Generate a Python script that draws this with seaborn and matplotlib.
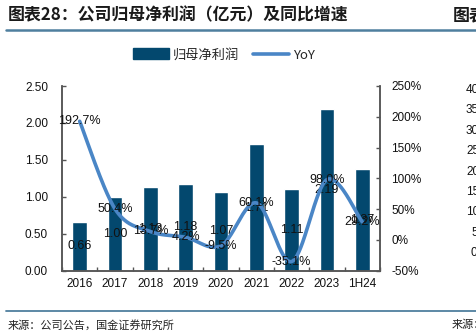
import numpy as np
import pandas as pd
import matplotlib
matplotlib.use("Agg")
import matplotlib.pyplot as plt
from matplotlib.ticker import FixedLocator, FuncFormatter
from matplotlib.patches import Patch
from matplotlib.lines import Line2D
import seaborn as sns

# ---- data ----
periods = ["2016", "2017", "2018", "2019", "2020", "2021", "2022", "2023", "1H24"]
net_profit = [0.66, 1.00, 1.13, 1.18, 1.07, 1.71, 1.11, 2.19, 1.37]   # 亿元
yoy_pct = [192.7, 50.4, 13.7, 4.2, -9.5, 60.1, -35.1, 98.0, 29.2]    # %

left_ticks = [0.0, 0.5, 1.0, 1.5, 2.0, 2.5]
right_ticks = [-50, 0, 50, 100, 150, 200, 250]

title_text = "图表28：公司归母净利润（亿元）及同比增速"
source_text = "来源：公司公告，国金证券研究所"
next_title_text = "图表29：公司营业收入"
next_source_text = "来源：公司公告"
next_ticks = ["40", "35", "30", "25", "20", "15", "10", "5", "0"]

BAR_C = "#03486E"
LINE_C = "#4A86C6"
AXIS_C = "#555555"
RULE_C = "#4F7F9E"

sns.set_theme(style="white")
plt.rcParams["font.family"] = ["Liberation Sans", "Noto Sans CJK SC", "DejaVu Sans"]
CJK = ["Noto Sans CJK SC", "DejaVu Sans"]

fig = plt.figure(figsize=(4.77, 3.33), dpi=100)
ax = fig.add_axes([62 / 477, 1 - 270.7 / 333, (380 - 62) / 477, (270.7 - 86) / 333])
ax2 = ax.twinx()

df = pd.DataFrame({"period": periods, "profit": net_profit, "yoy": yoy_pct})
sns.barplot(data=df, x="period", y="profit", color=BAR_C, width=0.42,
            saturation=1, ax=ax, zorder=2)

ax.set_xlim(-0.5, len(periods) - 0.5)
ax.set_ylim(0, 2.5)
ax2.set_ylim(-50, 250)
ax.set_xlabel("")
ax.set_ylabel("")

# smoothed YoY curve (Bezier through the points, computed in screen-like units)
xs = np.arange(len(periods), dtype=float)
ys = np.array(yoy_pct, dtype=float)
px_per_cat = 318 / len(periods)
px_per_pct = 184.7 / 300
P = np.column_stack([xs * px_per_cat, ys * px_per_pct])
n = len(P)
curve = []
t = np.linspace(0, 1, 40)
for i in range(n - 1):
    p0 = P[max(i - 1, 0)]
    p1 = P[i]
    p2 = P[i + 1]
    p3 = P[min(i + 2, n - 1)]
    c1 = p1 + (p2 - p0) / 6
    c2 = p2 - (p3 - p1) / 6
    seg = ((1 - t) ** 3)[:, None] * p1 + (3 * (1 - t) ** 2 * t)[:, None] * c1 \
        + (3 * (1 - t) * t ** 2)[:, None] * c2 + (t ** 3)[:, None] * p2
    curve.append(seg if i == 0 else seg[1:])
curve = np.vstack(curve)
curve_df = pd.DataFrame({"x": curve[:, 0] / px_per_cat, "y": curve[:, 1] / px_per_pct})
sns.lineplot(data=curve_df, x="x", y="y", sort=False, estimator=None,
             color=LINE_C, linewidth=2.6, ax=ax2, zorder=3)
ax2.set_xlabel("")
ax2.set_ylabel("")

# value labels
for i, v in enumerate(net_profit):
    ax.text(i, v / 2, f"{v:.2f}", ha="center", va="center", fontsize=9,
            color="#111111", zorder=5)
for i, v in enumerate(yoy_pct):
    ax2.text(i, v, f"{v:.1f}%", ha="center", va="center", fontsize=9,
             color="#111111", zorder=6)

# axes styling
for a in (ax, ax2):
    a.spines["top"].set_visible(False)
    for s in ("left", "right", "bottom"):
        a.spines[s].set_color(AXIS_C)
        a.spines[s].set_linewidth(1.1)
    a.grid(False)

ax.yaxis.set_major_locator(FixedLocator(left_ticks))
ax.yaxis.set_major_formatter(FuncFormatter(lambda v, p: f"{v:.2f}"))
ax2.yaxis.set_major_locator(FixedLocator(right_ticks))
ax2.yaxis.set_major_formatter(FuncFormatter(lambda v, p: f"{v:.0f}%"))

ax.tick_params(axis="y", direction="in", length=3, width=1, color=AXIS_C,
               labelsize=8.5, labelcolor="#111111", pad=10)
ax2.tick_params(axis="y", direction="in", length=3, width=1, color=AXIS_C,
                labelsize=8.5, labelcolor="#111111", pad=8)
ax.tick_params(axis="x", which="major", length=0, labelsize=8.5,
               labelcolor="#111111", pad=5)
ax.xaxis.set_minor_locator(FixedLocator(np.arange(-0.5, len(periods), 1.0)))
ax.tick_params(axis="x", which="minor", direction="in", length=3, width=1,
               color=AXIS_C, bottom=True)

# legend
handles = [Patch(facecolor=BAR_C, edgecolor=BAR_C),
           Line2D([0], [0], color=LINE_C, linewidth=2.6)]
fig.legend(handles, ["归母净利润", "YoY"], loc="center",
           bbox_to_anchor=(224 / 477, 1 - 55 / 333), ncol=2, frameon=False,
           handlelength=2.7, handleheight=0.9,
           columnspacing=1.1, handletextpad=0.3,
           prop={"family": ["Noto Sans CJK SC", "Liberation Sans"], "size": 9.5})

# header, rules and source
fig.text(8 / 477, 1 - 15 / 333, title_text, fontsize=12.2, fontweight="bold",
         family=CJK, color="#1A1A1A", va="center", ha="left")
fig.text(453 / 477, 1 - 15 / 333, next_title_text, fontsize=12.2, fontweight="bold",
         family=CJK, color="#1A1A1A", va="center", ha="left")
fig.add_artist(Line2D([6 / 477, 1.0], [1 - 29.5 / 333] * 2, color=RULE_C,
                      linewidth=1.8, transform=fig.transFigure))
fig.add_artist(Line2D([6 / 477, 1.0], [1 - 311 / 333] * 2, color=RULE_C,
                      linewidth=1.3, transform=fig.transFigure))
fig.text(8 / 477, 1 - 325 / 333, source_text, fontsize=8, family=CJK,
         color="#222222", va="center", ha="left")
fig.text(452 / 477, 1 - 325 / 333, next_source_text, fontsize=8, family=CJK,
         color="#222222", va="center", ha="left")
for k, lab in enumerate(next_ticks):
    y = 90 + k * 20.4
    x0 = 466 if len(lab) == 2 else 471
    fig.text(x0 / 477, 1 - y / 333, lab, fontsize=8.5, color="#111111",
             va="center", ha="left")

fig.savefig("out.png", dpi=100)
